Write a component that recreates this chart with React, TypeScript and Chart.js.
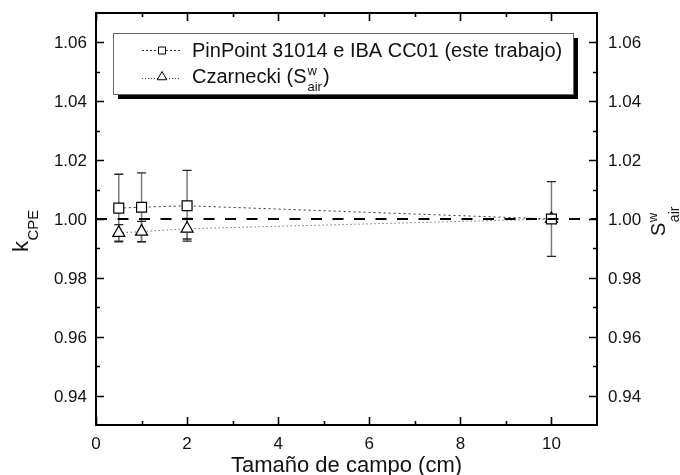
import React, { useEffect, useRef } from "react";
import { Chart, registerables } from "chart.js";

Chart.register(...registerables);

// Field sizes (cm)
const fieldSizes = [0.5, 1, 2, 10];

// PinPoint 31014 e IBA CC01 (este trabajo)
const pinpointValues = [1.0037, 1.004, 1.0045, 1.0];
const pinpointErrors = [0.0115, 0.0117, 0.012, 0.0127];

// Czarnecki (S^w_air)
const czarneckiValues = [0.9953, 0.9957, 0.9967, 1.0];
const czarneckiErrors = [0.0028, 0.0035, 0.0035, 0.0];

// Reference line at unity
const refLineX = [0, 11];
const refLineY = [1.0, 1.0];

// Axis ticks
const xMajorTicks = [0, 2, 4, 6, 8, 10];
const xMajorLabels = ["0", "2", "4", "6", "8", "10"];
const xMinorTicks = [1, 3, 5, 7, 9];
const yMajorTicks = [0.94, 0.96, 0.98, 1.0, 1.02, 1.04, 1.06];
const yMajorLabels = ["0.94", "0.96", "0.98", "1.00", "1.02", "1.04", "1.06"];
const yMinorTicks = [0.95, 0.97, 0.99, 1.01, 1.03, 1.05];

const legendLabels = ["PinPoint 31014 e IBA CC01 (este trabajo)", "Czarnecki (S"];
const xTitle = "Tamaño de campo (cm)";

const FONT = "Arial, 'Liberation Sans', sans-serif";
const TEXT = "#111";

function drawSquare(ctx: CanvasRenderingContext2D, x: number, y: number, half: number) {
  ctx.beginPath();
  ctx.rect(x - half, y - half, half * 2, half * 2);
  ctx.fillStyle = "#fff";
  ctx.fill();
  ctx.stroke();
}

function drawTriangle(ctx: CanvasRenderingContext2D, x: number, y: number, r: number) {
  ctx.beginPath();
  ctx.moveTo(x, y - r);
  ctx.lineTo(x + r * 0.866, y + r * 0.5);
  ctx.lineTo(x - r * 0.866, y + r * 0.5);
  ctx.closePath();
  ctx.fillStyle = "#fff";
  ctx.fill();
  ctx.stroke();
}

const errorBarsPlugin = {
  id: "errorBars",
  beforeDatasetsDraw(chart: any) {
    const ctx: CanvasRenderingContext2D = chart.ctx;
    const xs = chart.scales.x;
    const ys = chart.scales.y;
    const sets = [
      { v: pinpointValues, e: pinpointErrors },
      { v: czarneckiValues, e: czarneckiErrors },
    ];
    ctx.save();
    for (const s of sets) {
      fieldSizes.forEach((fx, i) => {
        if (!s.e[i]) return;
        const px = xs.getPixelForValue(fx);
        const top = ys.getPixelForValue(s.v[i] + s.e[i]);
        const bot = ys.getPixelForValue(s.v[i] - s.e[i]);
        ctx.strokeStyle = "#7a7a7a";
        ctx.lineWidth = 1.5;
        ctx.beginPath();
        ctx.moveTo(px, top);
        ctx.lineTo(px, bot);
        ctx.stroke();
        ctx.strokeStyle = "#222";
        ctx.lineWidth = 1.3;
        ctx.beginPath();
        ctx.moveTo(px - 4.5, top);
        ctx.lineTo(px + 4.5, top);
        ctx.moveTo(px - 4.5, bot);
        ctx.lineTo(px + 4.5, bot);
        ctx.stroke();
      });
    }
    ctx.restore();
  },
};

const framePlugin = {
  id: "frameAndLabels",
  afterDraw(chart: any) {
    const ctx: CanvasRenderingContext2D = chart.ctx;
    const xs = chart.scales.x;
    const ys = chart.scales.y;
    const { left, right, top, bottom } = chart.chartArea;
    ctx.save();

    // Frame
    ctx.strokeStyle = "#000";
    ctx.lineWidth = 2;
    ctx.strokeRect(left, top, right - left, bottom - top);

    // Inward ticks on all four sides
    ctx.lineWidth = 1.6;
    ctx.beginPath();
    const xt = (vals: number[], len: number) => {
      vals.forEach((v) => {
        const px = Math.round(xs.getPixelForValue(v)) + 0.5;
        ctx.moveTo(px, bottom);
        ctx.lineTo(px, bottom - len);
        ctx.moveTo(px, top);
        ctx.lineTo(px, top + len);
      });
    };
    const yt = (vals: number[], len: number) => {
      vals.forEach((v) => {
        const py = Math.round(ys.getPixelForValue(v)) + 0.5;
        ctx.moveTo(left, py);
        ctx.lineTo(left + len, py);
        ctx.moveTo(right, py);
        ctx.lineTo(right - len, py);
      });
    };
    xt(xMajorTicks, 8);
    xt(xMinorTicks, 4);
    yt(yMajorTicks, 8);
    yt(yMinorTicks, 4);
    ctx.stroke();

    // Tick labels
    ctx.fillStyle = TEXT;
    ctx.font = `17px ${FONT}`;
    ctx.textBaseline = "alphabetic";
    ctx.textAlign = "center";
    xMajorTicks.forEach((v, i) => {
      ctx.fillText(xMajorLabels[i], xs.getPixelForValue(v), bottom + 24);
    });
    yMajorTicks.forEach((v, i) => {
      const py = ys.getPixelForValue(v) + 6;
      ctx.textAlign = "right";
      ctx.fillText(yMajorLabels[i], left - 9, py);
      ctx.textAlign = "left";
      ctx.fillText(yMajorLabels[i], right + 11, py);
    });

    // X title
    ctx.textAlign = "center";
    ctx.font = `22px ${FONT}`;
    ctx.fillText(xTitle, (left + right) / 2, 472);

    // Left Y title: k_CPE
    ctx.save();
    ctx.translate(28, 252);
    ctx.rotate(-Math.PI / 2);
    ctx.textAlign = "left";
    ctx.font = `22px ${FONT}`;
    ctx.fillText("k", 0, 0);
    const kW = ctx.measureText("k").width;
    ctx.font = `15px ${FONT}`;
    ctx.fillText("CPE", kW + 0.5, 10);
    ctx.restore();

    // Right Y title: S^w_air
    ctx.save();
    ctx.translate(665, 236);
    ctx.rotate(-Math.PI / 2);
    ctx.textAlign = "left";
    ctx.font = `20px ${FONT}`;
    ctx.fillText("S", 0, 0);
    const sW = ctx.measureText("S").width;
    ctx.font = `13px ${FONT}`;
    ctx.fillText("w", sW + 0.5, -8);
    ctx.font = `14px ${FONT}`;
    ctx.fillText("air", sW + 0.5, 14);
    ctx.restore();

    // Legend box with drop shadow
    const lx = 113, ly = 33, lw = 460, lh = 61;
    ctx.fillStyle = "#000";
    ctx.fillRect(lx + 5, ly + 5, lw, lh);
    ctx.fillStyle = "#fff";
    ctx.fillRect(lx, ly, lw, lh);
    ctx.strokeStyle = "#666";
    ctx.lineWidth = 1;
    ctx.strokeRect(lx + 0.5, ly + 0.5, lw, lh);

    // Legend samples
    ctx.strokeStyle = "#333";
    ctx.lineWidth = 1;
    ctx.setLineDash([2, 2]);
    ctx.beginPath();
    ctx.moveTo(142, 50.5);
    ctx.lineTo(181, 50.5);
    ctx.stroke();
    ctx.setLineDash([1, 2]);
    ctx.beginPath();
    ctx.moveTo(142, 78.5);
    ctx.lineTo(181, 78.5);
    ctx.stroke();
    ctx.setLineDash([]);
    ctx.strokeStyle = "#000";
    drawSquare(ctx, 162, 50.5, 3.5);
    drawTriangle(ctx, 162, 77, 5.5);

    // Legend texts
    ctx.fillStyle = TEXT;
    ctx.textAlign = "left";
    ctx.font = `20px ${FONT}`;
    ctx.fillText(legendLabels[0], 192, 57);
    ctx.fillText(legendLabels[1], 192, 83);
    const w1 = ctx.measureText(legendLabels[1]).width;
    ctx.font = `13px ${FONT}`;
    ctx.fillText("w", 192 + w1 + 1, 75);
    const airW = ctx.measureText("air").width;
    ctx.fillText("air", 192 + w1 + 1, 91);
    ctx.font = `20px ${FONT}`;
    ctx.fillText(")", 192 + w1 + 1 + airW + 1, 83);

    ctx.restore();
  },
};

export default function App() {
  const canvasRef = useRef<HTMLCanvasElement | null>(null);

  useEffect(() => {
    const canvas = canvasRef.current;
    if (!canvas) return;
    const chart = new Chart(canvas, {
      type: "scatter",
      data: {
        datasets: [
          {
            label: "ref",
            data: refLineX.map((x, i) => ({ x, y: refLineY[i] })),
            showLine: true,
            borderColor: "#000",
            borderWidth: 2,
            borderDash: [11, 10.5],
            pointRadius: 0,
          },
          {
            label: legendLabels[0],
            data: fieldSizes.map((x, i) => ({ x, y: pinpointValues[i] })),
            showLine: true,
            borderColor: "#333",
            borderWidth: 1,
            borderDash: [2, 3],
            pointStyle: "rect",
            pointRadius: 7,
            pointBackgroundColor: "#fff",
            pointBorderColor: "#000",
            pointBorderWidth: 1.2,
          },
          {
            label: "Czarnecki",
            data: fieldSizes.map((x, i) => ({ x, y: czarneckiValues[i] })),
            showLine: true,
            borderColor: "#333",
            borderWidth: 1,
            borderDash: [1, 3],
            pointStyle: "triangle",
            pointRadius: 7,
            pointBackgroundColor: "#fff",
            pointBorderColor: "#000",
            pointBorderWidth: 1.2,
          },
        ],
      },
      options: {
        animation: false,
        responsive: false,
        maintainAspectRatio: false,
        layout: { padding: { left: 96, right: 83, top: 13, bottom: 50 } },
        plugins: { legend: { display: false }, tooltip: { enabled: false } },
        scales: {
          x: { type: "linear", min: 0, max: 11, display: false },
          y: { type: "linear", min: 0.93, max: 1.07, display: false },
        },
      },
      plugins: [errorBarsPlugin, framePlugin],
    });
    return () => chart.destroy();
  }, []);

  return (
    <div style={{ position: "absolute", left: 0, top: 0, width: 680, height: 475, background: "#fff" }}>
      <canvas ref={canvasRef} width={680} height={475} style={{ display: "block" }} />
    </div>
  );
}
